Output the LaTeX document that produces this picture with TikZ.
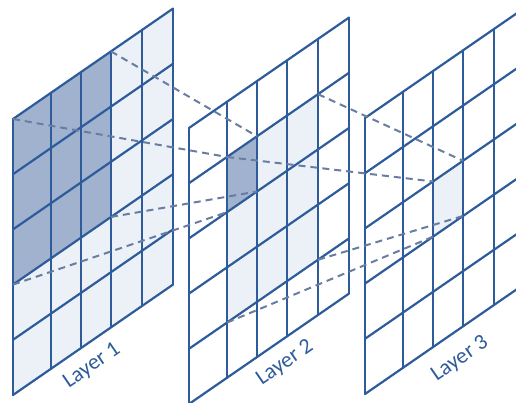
\documentclass[tikz,border=0pt]{standalone}
\usepackage{fontspec}
\setmainfont{Carlito}
\definecolor{lineblue}{RGB}{46,92,155}
\definecolor{darkfill}{RGB}{160,178,206}
\definecolor{lightfill}{RGB}{236,241,248}
\definecolor{dashgray}{RGB}{105,125,162}
\begin{document}
\begin{tikzpicture}[x=1pt,y=-1pt,
  gridline/.style={draw=lineblue, line width=2.2pt, line cap=round, line join=round},
  dashline/.style={draw=dashgray, line width=2pt, dash pattern=on 7pt off 5pt},
  darkcell/.style={fill=darkfill},
  lightcell/.style={fill=lightfill},
  layerlabel/.style={text=lineblue, font=\fontsize{22}{24}\selectfont, rotate=34.6, inner sep=0pt}]
\useasboundingbox (0,0) rectangle (516,403);
\fill[white] (0,0) rectangle (516,403);
\clip (0,0) rectangle (516,403);
% grid points of the three layers
\foreach \L/\ox/\oy in {1/13/119, 2/189/128, 3/365/118}{
  \foreach \cx [count=\c from 0] in {0,38,68,98,129,160}{
    \foreach \r in {0,...,5}{
      \coordinate (L\L-\c-\r) at ({\ox+\cx},{\oy-0.69*\cx+55.2*\r});
    }
  }
}
% fills
\path[lightcell] (L1-0-0) -- (L1-5-0) -- (L1-5-5) -- (L1-0-5) -- cycle;
\path[darkcell] (L1-0-0) -- (L1-3-0) -- (L1-3-3) -- (L1-0-3) -- cycle;
\path[lightcell] (L2-1-1) -- (L2-4-1) -- (L2-4-4) -- (L2-1-4) -- cycle;
\path[darkcell] (L2-1-1) -- (L2-2-1) -- (L2-2-2) -- (L2-1-2) -- cycle;
\path[lightcell] (L3-2-2) -- (L3-3-2) -- (L3-3-3) -- (L3-2-3) -- cycle;
% grid lines
\foreach \L in {1,2,3}{
  \foreach \c in {0,...,5}{ \draw[gridline] (L\L-\c-0) -- (L\L-\c-5); }
  \foreach \r in {0,...,5}{ \draw[gridline] (L\L-0-\r) -- (L\L-5-\r); }
}
% receptive field lines
\draw[dashline] (L1-0-0) -- (L2-1-1);
\draw[dashline] (L1-3-0) -- (L2-2-1);
\draw[dashline] (L1-0-3) -- (L2-1-2);
\draw[dashline] (L1-3-3) -- (L2-2-2);
\draw[dashline] (L2-1-1) -- (L3-2-2);
\draw[dashline] (L2-4-1) -- (L3-3-2);
\draw[dashline] (L2-1-4) -- (L3-2-3);
\draw[dashline] (L2-4-4) -- (L3-3-3);
% labels
\node[layerlabel] (t1) at (92,366) {Layer 1};
\node[layerlabel] (t2) at (285,363) {Layer 2};
\node[layerlabel] (t3) at (460,359) {Layer 3};
\end{tikzpicture}
\end{document}
